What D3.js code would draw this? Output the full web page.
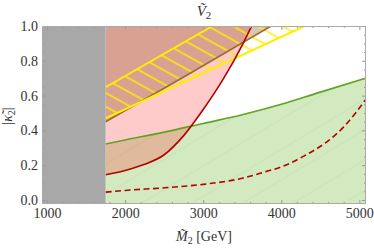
<!DOCTYPE html>
<html>
<head>
<meta charset="utf-8">
<script src="https://cdn.jsdelivr.net/npm/d3@7"></script>
<style>
body { margin: 0; background: #fff; }
text { font-family: "Liberation Serif", "Times New Roman", serif; fill: #333; }
</style>
</head>
<body>
<div id="chart"></div>
<script>
var xTicks = [1000, 2000, 3000, 4000, 5000];
var yTicks = [0, 0.2, 0.4, 0.6, 0.8, 1.0];
var massCut = 1750;
// curves, [M2, |k2|]
var greenLine = [[1750, 0.322], [2000, 0.345], [2500, 0.39], [3000, 0.44], [3500, 0.49], [4000, 0.55], [4500, 0.62], [5085, 0.70]];
var redSolid = [[1750, 0.145], [2000, 0.17], [2250, 0.205], [2500, 0.26], [2750, 0.37], [3000, 0.52], [3250, 0.69], [3500, 0.89], [3620, 1.0]];
var redDashed = [[1750, 0.045], [2000, 0.055], [2500, 0.07], [3000, 0.09], [3500, 0.125], [3800, 0.163], [4000, 0.19], [4300, 0.255], [4600, 0.34], [4800, 0.42], [5085, 0.58]];
var brownLine = [[1750, 0.45], [2800, 0.72], [3870, 1.0]];
var yellowUpper = [[1750, 0.648], [3120, 1.0]];
var yellowLower = [[1750, 0.47], [4300, 1.0]];

var w = 374, h = 250;
var m = {left: 42, right: 8, top: 26, bottom: 46};
var xMin = 935, xMax = 5085, yMin = -0.023, yMax = 1.0;

var x = d3.scaleLinear().domain([xMin, xMax]).range([m.left, w - m.right]);
var y = d3.scaleLinear().domain([yMin, yMax]).range([h - m.bottom, m.top]);

var svg = d3.select("#chart").append("svg")
    .attr("width", w)
    .attr("height", h)
    .attr("font-family", "Liberation Serif, Times New Roman, serif");

var defs = svg.append("defs");
defs.append("clipPath").attr("id", "plotClip")
    .append("rect")
    .attr("x", m.left).attr("y", m.top)
    .attr("width", w - m.left - m.right)
    .attr("height", h - m.top - m.bottom);

var hatch = defs.append("pattern")
    .attr("id", "hatch")
    .attr("patternUnits", "userSpaceOnUse")
    .attr("width", 20)
    .attr("height", 12)
    .attr("patternTransform", "rotate(29)");
hatch.append("line")
    .attr("x1", 0).attr("x2", 20)
    .attr("y1", 6).attr("y2", 6)
    .attr("stroke", "#ffee00")
    .attr("stroke-width", 1.5);

// faint mesh texture seen in the shaded regions
var mesh = defs.append("pattern")
    .attr("id", "mesh")
    .attr("patternUnits", "userSpaceOnUse")
    .attr("width", 40)
    .attr("height", 26)
    .attr("patternTransform", "rotate(-31)");
mesh.append("line")
    .attr("x1", 0).attr("x2", 40)
    .attr("y1", 13).attr("y2", 13)
    .attr("stroke", "#000")
    .attr("stroke-opacity", 0.035)
    .attr("stroke-width", 1);

var plot = svg.append("g").attr("clip-path", "url(#plotClip)");

var px = function (d) { return x(d[0]); };
var py = function (d) { return y(d[1]); };

// allowed by the green bound
var greenArea = d3.area().x(px).y0(y(yMin)).y1(py).curve(d3.curveMonotoneX);
plot.append("path")
    .datum(greenLine)
    .attr("d", greenArea)
    .attr("fill", "#d3e9c0");
plot.append("path")
    .datum(greenLine)
    .attr("d", greenArea)
    .attr("fill", "url(#mesh)");

// excluded by red bound
plot.append("path")
    .datum(redSolid)
    .attr("d", d3.area().x(px).y0(py).y1(y(yMax)).curve(d3.curveMonotoneX))
    .attr("fill", "rgb(255,60,60)")
    .attr("fill-opacity", 0.27);

// excluded by brown bound
plot.append("path")
    .datum(brownLine)
    .attr("d", d3.area().x(px).y0(py).y1(y(yMax)).curve(d3.curveMonotoneX))
    .attr("fill", "rgb(140,80,30)")
    .attr("fill-opacity", 0.33);

// hatched yellow band
var band = yellowUpper.concat(yellowLower.slice().reverse());
plot.append("path")
    .attr("d", d3.line().x(px).y(py)(band) + "Z")
    .attr("fill", "url(#hatch)");

var line = d3.line().x(px).y(py).curve(d3.curveMonotoneX);

plot.append("path").datum(brownLine).attr("d", line)
    .attr("fill", "none").attr("stroke", "#9a6a3a").attr("stroke-width", 1.6);
[yellowUpper, yellowLower].forEach(function (l) {
    plot.append("path").datum(l).attr("d", line)
        .attr("fill", "none").attr("stroke", "#ffee00").attr("stroke-width", 2);
});
plot.append("path").datum(greenLine).attr("d", line)
    .attr("fill", "none").attr("stroke", "#5ea41f").attr("stroke-width", 1.6);
plot.append("path").datum(redSolid).attr("d", line)
    .attr("fill", "none").attr("stroke", "#b30000").attr("stroke-width", 1.6);
plot.append("path").datum(redDashed).attr("d", line)
    .attr("fill", "none").attr("stroke", "#b30000").attr("stroke-width", 1.6)
    .attr("stroke-dasharray", "6,3.5");

// excluded mass range
plot.append("rect")
    .attr("x", x(xMin)).attr("y", y(yMax))
    .attr("width", x(massCut) - x(xMin))
    .attr("height", y(yMin) - y(yMax))
    .attr("fill", "#a8a8a8");

// frame and ticks
var xMinor = d3.range(1000, 5001, 200).filter(function (v) { return v % 1000 !== 0; });
var yMinor = d3.range(0, 1.001, 0.05).filter(function (v) { return Math.round(v * 100) % 20 !== 0; });

function styleAxis(g) {
    g.attr("font-family", null);
    g.select(".domain").remove();
    g.selectAll(".tick line").attr("stroke", "#999");
    g.selectAll(".tick text").attr("fill", "#333").style("font-size", "14px");
}

svg.append("g").attr("transform", "translate(0," + y(yMin) + ")")
    .call(d3.axisBottom(x).tickValues(xTicks).tickSize(-4).tickPadding(4).tickFormat(d3.format("d")))
    .call(styleAxis);
svg.append("g").attr("transform", "translate(0," + y(yMin) + ")")
    .call(d3.axisBottom(x).tickValues(xMinor).tickSize(-2).tickFormat(""))
    .call(styleAxis);
svg.append("g").attr("transform", "translate(0," + y(yMax) + ")")
    .call(d3.axisTop(x).tickValues(xTicks).tickSize(-4).tickFormat(""))
    .call(styleAxis);
svg.append("g").attr("transform", "translate(0," + y(yMax) + ")")
    .call(d3.axisTop(x).tickValues(xMinor).tickSize(-2).tickFormat(""))
    .call(styleAxis);

svg.append("g").attr("transform", "translate(" + x(xMin) + ",0)")
    .call(d3.axisLeft(y).tickValues(yTicks).tickSize(-4).tickPadding(4).tickFormat(d3.format(".1f")))
    .call(styleAxis);
svg.append("g").attr("transform", "translate(" + x(xMin) + ",0)")
    .call(d3.axisLeft(y).tickValues(yMinor).tickSize(-2).tickFormat(""))
    .call(styleAxis);
svg.append("g").attr("transform", "translate(" + x(xMax) + ",0)")
    .call(d3.axisRight(y).tickValues(yTicks).tickSize(-4).tickFormat(""))
    .call(styleAxis);
svg.append("g").attr("transform", "translate(" + x(xMax) + ",0)")
    .call(d3.axisRight(y).tickValues(yMinor).tickSize(-2).tickFormat(""))
    .call(styleAxis);

svg.append("rect")
    .attr("x", x(xMin) + 0.5).attr("y", y(yMax) + 0.5)
    .attr("width", x(xMax) - x(xMin) - 1)
    .attr("height", y(yMin) - y(yMax) - 1)
    .attr("fill", "none")
    .attr("stroke", "#aaa");

// labels
var title = svg.append("text")
    .attr("x", 204).attr("y", 16)
    .attr("text-anchor", "middle")
    .style("font-size", "15px");
title.append("tspan").style("font-style", "italic").text("V\u0303");
title.append("tspan").attr("dy", 3).style("font-size", "11px").text("2");

var xlab = svg.append("text")
    .attr("x", 204).attr("y", 241)
    .attr("text-anchor", "middle")
    .style("font-size", "14px");
xlab.append("tspan").style("font-style", "italic").text("M\u0303");
xlab.append("tspan").attr("dy", 3).style("font-size", "10px").text("2");
xlab.append("tspan").attr("dy", -3).text(" [GeV]");

var ylab = svg.append("text")
    .attr("transform", "translate(12,116) rotate(-90)")
    .attr("text-anchor", "middle")
    .style("font-size", "14px");
ylab.append("tspan").text("|");
ylab.append("tspan").style("font-style", "italic").text("\u03BA\u0303");
ylab.append("tspan").attr("dy", 3).style("font-size", "10px").text("2");
ylab.append("tspan").attr("dy", -3).text("|");
</script>
</body>
</html>
